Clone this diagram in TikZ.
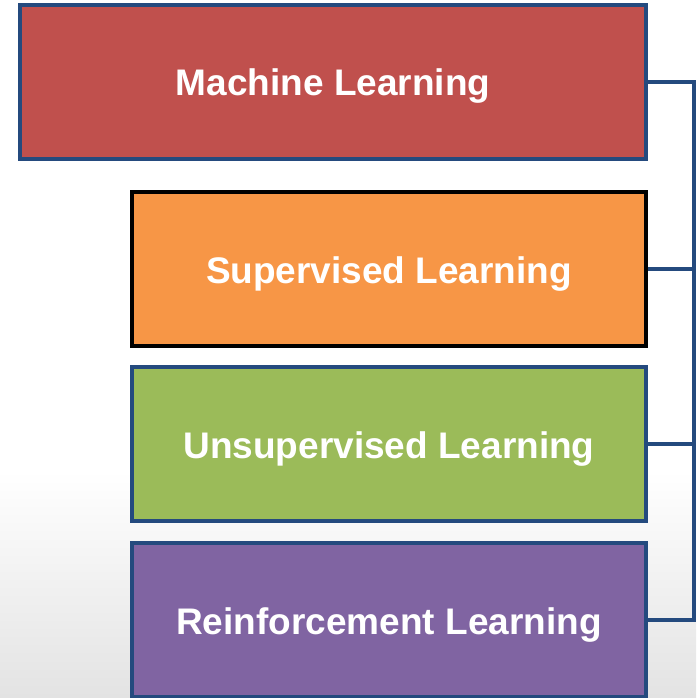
\documentclass[tikz,border=0pt]{standalone}
\usepackage{fontspec}
\setmainfont{Liberation Sans}
\definecolor{mlred}{HTML}{C0504D}
\definecolor{suporange}{HTML}{F79646}
\definecolor{unsgreen}{HTML}{9BBB59}
\definecolor{rlpurple}{HTML}{8064A2}
\definecolor{edgeblue}{HTML}{244A7E}
\newcommand{\boxtext}[1]{\raisebox{-14pt}[0pt][0pt]{#1}}
\begin{document}
\begin{tikzpicture}[x=1pt,y=-1pt,
  box/.style={draw=edgeblue,line width=3.5pt,inner sep=0pt,text=white,font=\fontsize{37}{40}\selectfont\bfseries},
  link/.style={draw=edgeblue,line width=3.5pt}]
\useasboundingbox (0,0) rectangle (696,698);
\fill[white] (0,0) rectangle (696,470);
\shade[top color=white,bottom color=black!11] (0,470) rectangle (696,698);
\node[box,fill=mlred,minimum width=626pt,minimum height=154pt] (ml) at (333,82) {\boxtext{Machine Learning}};
\node[box,fill=suporange,draw=black,minimum width=514pt,minimum height=154pt] (sl) at (389,269) {\boxtext{Supervised Learning}};
\node[box,fill=unsgreen,minimum width=514pt,minimum height=154pt] (ul) at (389,444) {\boxtext{Unsupervised Learning}};
\node[box,fill=rlpurple,minimum width=514pt,minimum height=154pt] (rl) at (389,620) {\boxtext{Reinforcement Learning}};
\coordinate (c1) at (694,82);
\coordinate (c4) at (694,620);
\draw[link] (ml.east) -- (c1) -- (c4) -- (rl.east);
\draw[link] (sl.east) -- (sl.east -| c1);
\draw[link] (ul.east) -- (ul.east -| c1);
\end{tikzpicture}
\end{document}
